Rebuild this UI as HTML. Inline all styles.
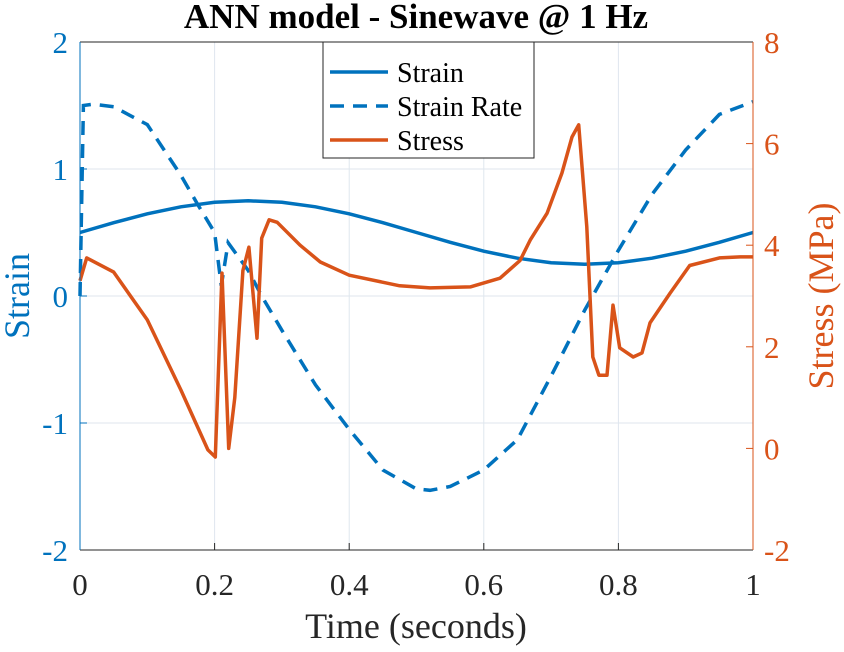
<!DOCTYPE html>
<html><head><meta charset="utf-8"><style>
body{margin:0;background:#fff}
svg text{font-family:"Liberation Serif",serif}
</style></head><body>
<svg id="chart" width="844" height="647" xmlns="http://www.w3.org/2000/svg">
<g id="grid"></g>
<g id="series"></g>
<g id="axes"></g>
<text x="416" y="28" text-anchor="middle" font-size="35" font-weight="bold" fill="#000">ANN model - Sinewave @ 1 Hz</text>
<text x="416" y="638" text-anchor="middle" font-size="36" fill="#262626">Time (seconds)</text>
<text transform="translate(29,296) rotate(-90)" text-anchor="middle" font-size="36" fill="#0072BD">Strain</text>
<text transform="translate(833,296) rotate(-90)" text-anchor="middle" font-size="36" fill="#D95319">Stress (MPa)</text>
<g>
<rect x="323" y="42" width="211" height="116" fill="#fff" stroke="#262626" stroke-width="1"/>
<line x1="330" y1="72" x2="388" y2="72" stroke="#0072BD" stroke-width="3.5"/>
<text x="397" y="82" font-size="28">Strain</text>
<line x1="330" y1="106" x2="388" y2="106" stroke="#0072BD" stroke-width="3.5" stroke-dasharray="14,9"/>
<text x="397" y="116" font-size="28">Strain Rate</text>
<line x1="330" y1="140" x2="388" y2="140" stroke="#D95319" stroke-width="3.5"/>
<text x="397" y="150" font-size="28">Stress</text>
</g>
</svg>
<script>
const xTicks=[0,0.2,0.4,0.6,0.8,1];
const xTickLabels=["0","0.2","0.4","0.6","0.8","1"];
const yLeftTicks=[-2,-1,0,1,2];
const yLeftTickLabels=["-2","-1","0","1","2"];
const yRightTicks=[-2,0,2,4,6,8];
const yRightTickLabels=["-2","0","2","4","6","8"];
const strainT=[0,0.05,0.1,0.15,0.2,0.25,0.3,0.35,0.4,0.45,0.5,0.55,0.6,0.65,0.7,0.75,0.8,0.85,0.9,0.95,1];
const strainV=[0.5,0.577,0.647,0.702,0.738,0.75,0.738,0.702,0.647,0.577,0.5,0.423,0.353,0.298,0.262,0.25,0.262,0.298,0.353,0.423,0.5];
const rateT=[0,0.005,0.02,0.05,0.1,0.15,0.175,0.2,0.21,0.22,0.25,0.27,0.3,0.35,0.4,0.45,0.5,0.52,0.55,0.6,0.65,0.7,0.75,0.8,0.85,0.9,0.95,1];
const rateV=[0,1.5,1.51,1.49,1.35,0.95,0.72,0.5,0.08,0.42,0.2,0,-0.27,-0.7,-1.05,-1.37,-1.52,-1.53,-1.5,-1.37,-1.13,-0.63,-0.11,0.36,0.8,1.15,1.43,1.53];
const stressT=[0,0.01,0.05,0.1,0.15,0.19,0.201,0.211,0.221,0.23,0.242,0.251,0.263,0.27,0.281,0.293,0.327,0.357,0.4,0.475,0.52,0.58,0.624,0.654,0.669,0.694,0.716,0.731,0.741,0.753,0.762,0.771,0.783,0.792,0.802,0.822,0.835,0.847,0.877,0.906,0.95,0.981,1];
const stressV=[3.3,3.75,3.47,2.53,1.15,-0.03,-0.17,3.45,0,1.0,3.5,3.96,2.17,4.14,4.5,4.45,4.0,3.67,3.41,3.2,3.16,3.18,3.35,3.7,4.1,4.63,5.42,6.13,6.37,4.36,1.8,1.44,1.44,2.82,1.98,1.8,1.88,2.47,3.06,3.6,3.75,3.77,3.77];
const L=80,R=753,T=42,B=550,NS="http://www.w3.org/2000/svg";
const xs=t=>L+t*(R-L);
const yl=v=>B-(v+2)/4*(B-T);
const yr=v=>B-(v+2)/10*(B-T);
function mk(tag,attrs,parent){const e=document.createElementNS(NS,tag);for(const k in attrs)e.setAttribute(k,attrs[k]);parent.appendChild(e);return e;}
const grid=document.getElementById('grid'),axes=document.getElementById('axes'),series=document.getElementById('series');
xTicks.forEach((t,i)=>{
 const g=mk('line',{x1:xs(t),x2:xs(t),y1:T,y2:B,stroke:'#dfe6ee','stroke-width':1},grid);
 
 
 const tk=mk('line',{x1:xs(t),x2:xs(t),y1:B,y2:B-7,stroke:'#262626','stroke-width':1},axes);
 
 
 const tx=mk('text',{x:xs(t),y:B+45,'text-anchor':'middle','font-size':31,fill:'#262626'},axes);
 tx.textContent=xTickLabels[i];
 
 
});
yLeftTicks.forEach((v,i)=>{
 const g=mk('line',{x1:L,x2:R,y1:yl(v),y2:yl(v),stroke:'#dfe6ee','stroke-width':1},grid);
 
 
 const tk=mk('line',{x1:L,x2:L+7,y1:yl(v),y2:yl(v),stroke:'#0072BD','stroke-width':1},axes);
 
 
 const tx=mk('text',{x:L-12,y:yl(v)+11,'text-anchor':'end','font-size':31,fill:'#0072BD'},axes);
 tx.textContent=yLeftTickLabels[i];
 
 
});
yRightTicks.forEach((v,i)=>{
 const tk=mk('line',{x1:R,x2:R-7,y1:yr(v),y2:yr(v),stroke:'#D95319','stroke-width':1},axes);
 
 
 const tx=mk('text',{x:R+11,y:yr(v)+11,'text-anchor':'start','font-size':31,fill:'#D95319'},axes);
 tx.textContent=yRightTickLabels[i];
 
 
});
let a;
a=mk('line',{x1:L,x2:R,y1:B,y2:B,stroke:'#262626'},axes);
a=mk('line',{x1:L,x2:R,y1:T,y2:T,stroke:'#262626'},axes);
a=mk('line',{x1:L,x2:L,y1:T,y2:B,stroke:'#0072BD'},axes);
a=mk('line',{x1:R,x2:R,y1:T,y2:B,stroke:'#D95319'},axes);
function path(ts,vs,fy){return ts.map((t,i)=>(i?'L':'M')+xs(t).toFixed(1)+','+fy(vs[i]).toFixed(1)).join('');}
const p1=mk('path',{d:path(strainT,strainV,yl),fill:'none',stroke:'#0072BD','stroke-width':3.5},series);


const p2=mk('path',{d:path(rateT,rateV,yl),fill:'none',stroke:'#0072BD','stroke-width':3.5,'stroke-dasharray':'14,9'},series);


const p3=mk('path',{d:path(stressT,stressV,yr),fill:'none',stroke:'#D95319','stroke-width':3.5,'stroke-linejoin':'round'},series);


</script>
</body></html>
